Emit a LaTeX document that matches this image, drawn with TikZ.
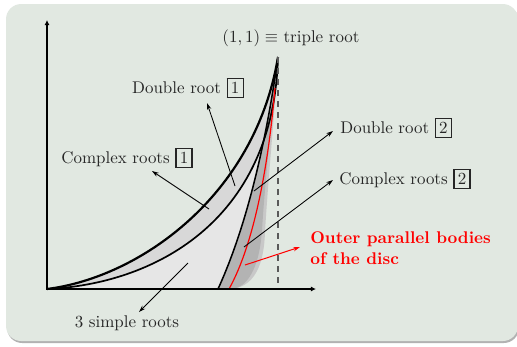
\documentclass[tikz,border=0pt]{standalone}
\usetikzlibrary{arrows.meta}
\definecolor{bgc}{HTML}{E1E8E1}
\definecolor{txt}{HTML}{262626}
\definecolor{lightreg}{HTML}{E6E6E6}
\definecolor{bandreg}{HTML}{D8D8D8}
\definecolor{darkreg}{HTML}{B3B3B3}
\definecolor{fringe}{HTML}{C8C8C8}
\setlength{\fboxrule}{0.8pt}
\setlength{\fboxsep}{1.8pt}
\begin{document}
\begin{tikzpicture}[x=0.59pt,y=-0.59pt,
  lbl/.style={text=txt, inner sep=0pt},
  ptr/.style={line width=0.5pt, draw=black, -{Stealth[length=4pt,width=2.6pt]}},
  redptr/.style={line width=0.6pt, draw=red, -{Stealth[length=4pt,width=2.6pt]}}]
\useasboundingbox (0,0) rectangle (517,346);
\fill[white] (0,0) rectangle (517,346);
\fill[black!30, rounded corners=9] (7,6) rectangle (519,343);
\fill[bgc, rounded corners=9] (6,4) rectangle (518,341);

\coordinate (O) at (47,289);
\coordinate (A) at (278,57);
\coordinate (B) at (218,289);

% band between outer and inner
\fill[bandreg] (O) .. controls (139.4,277.4) and (254.9,196.2) .. (A)
   .. controls (273.4,224) and (151,284.4) .. (O) -- cycle;
% light region
\fill[lightreg] (O) .. controls (151,284.4) and (273.4,224) .. (A)
   .. controls (265,150) and (245,230) .. (B) -- cycle;
% fringe and dark region
\fill[fringe] (B) -- (226,289) .. controls (256,290) and (264,262) .. (265,232)
   .. controls (268,180) and (275,110) .. (A)
   .. controls (265,150) and (245,230) .. (B) -- cycle;
\fill[darkreg] (B) -- (232,289) .. controls (250,287) and (260,262) .. (262,230)
   .. controls (265,180) and (273,110) .. (A)
   .. controls (265,150) and (245,230) .. (B) -- cycle;

% curves
\draw[line width=1.3pt] (O) .. controls (139.4,277.4) and (254.9,196.2) .. (A);
\draw[line width=1pt] (O) .. controls (151,284.4) and (273.4,224) .. (A);
\draw[line width=0.9pt] (B) .. controls (245,230) and (265,150) .. (A);
\draw[red, line width=0.7pt] (229,289) .. controls (254.9,242.6) and (268.8,161.4) .. (275,88);

% dashed line
\coordinate (Abot) at (278,289);
\draw[black!65, line width=1.1pt, dash pattern=on 3.5pt off 3pt] (A) -- (Abot);

% axes
\coordinate (ytop) at (47,20);
\coordinate (xend) at (316,289);
\draw[line width=1.6pt, {Latex[length=3pt,width=3pt]}-{Latex[length=3pt,width=3pt]}] (ytop) -- (O) -- (xend);

% labels
\node[lbl] (tr) at (291,38) {$(1,1)\equiv$ triple root};
\node[lbl] (dr1) at (188,88) {Double root \fbox{1}};
\node[lbl] (cr1) at (127,158) {Complex roots \fbox{1}};
\node[lbl, anchor=west] (dr2) at (340,128) {Double root \fbox{2}};
\node[lbl, anchor=west] (cr2) at (339,179) {Complex roots \fbox{2}};
\node[inner sep=0pt, anchor=west, text=red, align=left, font=\bfseries] (opb) at (310,248) {Outer parallel bodies\\of the disc};
\node[lbl] (ssr) at (127,323) {3 simple roots};

% pointers
\coordinate (t1) at (235,186); \coordinate (h1) at (207,103);
\coordinate (t2) at (209,209); \coordinate (h2) at (152,171);
\coordinate (t3) at (254,191); \coordinate (h3) at (333,131);
\coordinate (t4) at (244,247); \coordinate (h4) at (333,180);
\coordinate (t5) at (245,265); \coordinate (h5) at (300,247);
\coordinate (t6) at (188,263); \coordinate (h6) at (139,312);
\draw[ptr] (t1) -- (h1);
\draw[ptr] (t2) -- (h2);
\draw[ptr] (t3) -- (h3);
\draw[ptr] (t4) -- (h4);
\draw[redptr] (t5) -- (h5);
\draw[ptr] (t6) -- (h6);
\end{tikzpicture}
\end{document}
